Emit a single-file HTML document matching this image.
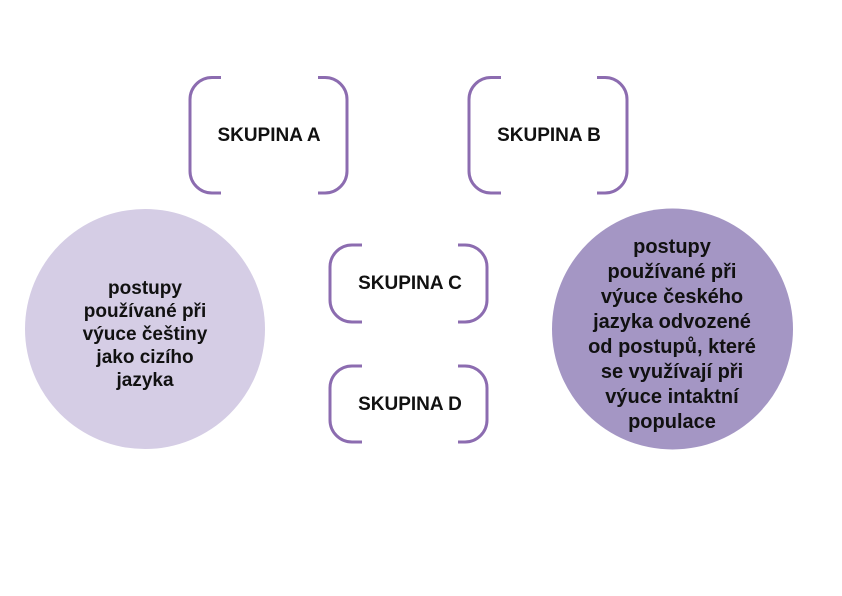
<!DOCTYPE html>
<html>
<head>
<meta charset="utf-8">
<style>
  html,body{margin:0;padding:0;background:#fff;}
  body{width:842px;height:596px;position:relative;overflow:hidden;font-family:"Liberation Sans",Arial,sans-serif;}
  svg{position:absolute;left:0;top:0;}
  .lbl{position:absolute;font-weight:bold;color:#111;text-align:center;white-space:nowrap;}
  .sk{font-size:19px;line-height:20px;width:200px;}
</style>
</head>
<body>
<svg width="842" height="596" viewBox="0 0 842 596">
  <circle cx="145" cy="329" r="120" fill="#d5cde5"/>
  <circle cx="672.5" cy="329" r="120.5" fill="#a496c4"/>
  <g fill="none" stroke="#8c6cb0" stroke-width="3" stroke-linecap="butt">
    <!-- A -->
    <path d="M221 77.5 H212 A22 22 0 0 0 190 99.5 V171 A22 22 0 0 0 212 193 H221"/>
    <path d="M318 77.5 H325 A22 22 0 0 1 347 99.5 V171 A22 22 0 0 1 325 193 H318"/>
    <!-- B -->
    <path d="M501 77.5 H491 A22 22 0 0 0 469 99.5 V171 A22 22 0 0 0 491 193 H501"/>
    <path d="M597 77.5 H605 A22 22 0 0 1 627 99.5 V171 A22 22 0 0 1 605 193 H597"/>
    <!-- C -->
    <path d="M362 245 H352 A22 22 0 0 0 330 267 V300 A22 22 0 0 0 352 322 H362"/>
    <path d="M458 245 H465 A22 22 0 0 1 487 267 V300 A22 22 0 0 1 465 322 H458"/>
    <!-- D -->
    <path d="M362 366 H352 A22 22 0 0 0 330 388 V420 A22 22 0 0 0 352 442 H362"/>
    <path d="M458 366 H465 A22 22 0 0 1 487 388 V420 A22 22 0 0 1 465 442 H458"/>
  </g>
</svg>

<div class="lbl sk" style="left:169px;top:126px;">SKUPINA A</div>
<div class="lbl sk" style="left:449px;top:126px;">SKUPINA B</div>
<div class="lbl sk" style="left:310px;top:274px;">SKUPINA C</div>
<div class="lbl sk" style="left:310px;top:395px;">SKUPINA D</div>

<div class="lbl" style="left:45px;top:277px;width:200px;font-size:19px;line-height:23px;">postupy<br>používané při<br>výuce češtiny<br>jako cizího<br>jazyka</div>

<div class="lbl" style="left:572px;top:235px;width:200px;font-size:20px;line-height:25px;">postupy<br>používané při<br>výuce českého<br>jazyka odvozené<br>od postupů, které<br>se využívají při<br>výuce intaktní<br>populace</div>
</body>
</html>
